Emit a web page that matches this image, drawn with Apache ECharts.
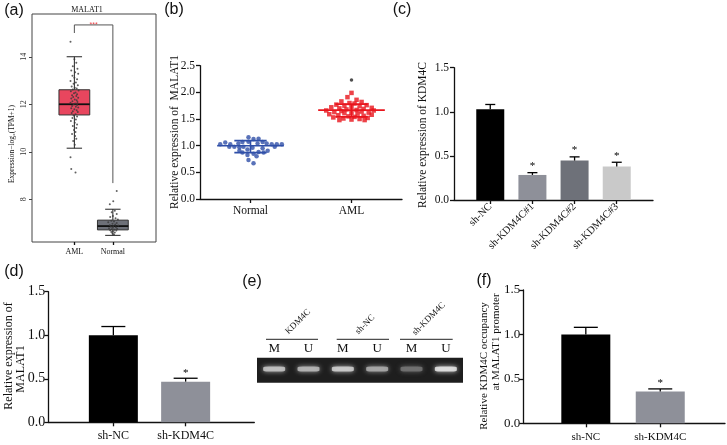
<!DOCTYPE html>
<html><head><meta charset="utf-8">
<script src="https://cdn.jsdelivr.net/npm/echarts@6/dist/echarts.min.js"></script>
<style>html,body{margin:0;padding:0;background:#fff}#c{width:727px;height:445px}</style>
</head><body><div id="c"></div>
<script>
// ---------- Panel (a) ----------
const aGroups = ['AML', 'Normal'];
const aTicks = [8, 10, 12, 14];
// [x, lowerWhisker, q1, median, q3, upperWhisker]
const aBox = [
  [1, 10.15, 11.55, 12.0, 12.61, 14.0],
  [2, 6.48, 6.71, 6.87, 7.12, 7.58]
];
const aBracket = [[1, 15.0], [1, 15.34], [2, 15.34], [2, 8.68]];
const aAmlPts = [[0.9,14.63],[1.0,13.9],[1.05,13.75],[0.96,13.6],[1.08,13.5],[0.92,13.42],[1.02,13.35],[1.1,13.28],[0.95,13.2],[1.0,13.12],[1.07,13.05],[0.9,12.98],[1.04,12.92],[0.98,12.86],[1.09,12.8],[0.93,12.75],[1.01,12.7],[1.06,12.66],[0.96,12.62],[1.11,12.58],[0.91,12.55],[1.03,12.5],[0.99,12.46],[1.07,12.42],[0.94,12.38],[1.05,12.35],[0.97,12.31],[1.1,12.27],[0.92,12.24],[1.01,12.2],[1.06,12.17],[0.95,12.13],[1.08,12.1],[0.9,12.06],[1.02,12.03],[0.98,12.0],[1.07,11.97],[0.94,11.93],[1.04,11.9],[1.1,11.86],[0.92,11.83],[1.0,11.79],[1.06,11.75],[0.96,11.71],[1.09,11.67],[0.93,11.63],[1.03,11.58],[0.98,11.53],[1.07,11.48],[0.95,11.42],[1.04,11.36],[0.91,11.3],[1.01,11.22],[1.07,11.15],[0.96,11.08],[1.05,11.0],[0.99,10.92],[1.03,10.83],[0.94,10.75],[1.02,10.66],[1.05,10.55],[0.97,10.45],[1.01,10.3],[0.9,9.77],[0.92,9.27],[1.03,9.13]];
const aNormPts = [[2.1,8.35],[2.01,7.92],[1.92,7.79],[2.05,7.52],[1.97,7.45],[2.1,7.38],[2.0,7.3],[1.93,7.25],[2.07,7.2],[2.13,7.15],[1.96,7.1],[2.03,7.06],[1.88,7.03],[2.1,7.0],[1.99,6.97],[2.06,6.94],[1.92,6.91],[2.14,6.89],[2.01,6.86],[1.95,6.84],[2.08,6.82],[2.0,6.8],[1.9,6.78],[2.11,6.76],[1.97,6.74],[2.04,6.72],[1.93,6.7],[2.09,6.68],[2.0,6.65],[1.96,6.62],[2.05,6.6],[1.99,6.56],[2.03,6.52]];

// ---------- Panel (b) ----------
const bGroups = ['Normal', 'AML'];
const bNormal = [[0.70,1.025],[0.75,1.06],[0.80,1.025],[0.84,0.98],[0.88,1.04],[0.92,1.07],[0.93,0.98],[0.98,1.16],[0.98,1.075],[1.03,1.125],[1.07,1.04],[1.08,1.13],[1.12,1.07],[1.16,1.04],[1.21,1.025],[1.26,1.025],[1.31,1.025],[0.89,0.97],[0.97,0.93],[1.02,0.96],[1.12,0.95],[1.17,0.905],[0.92,0.87],[0.97,0.825],[1.03,0.85],[1.08,0.88],[1.13,0.87],[0.98,0.73],[1.03,0.67],[0.89,0.905],[1.24,0.98],[0.79,0.98],[1.06,0.80]];
const bAML = [[2.0,1.99],[1.96,1.91],[2.05,1.86],[1.9,1.83],[2.1,1.82],[1.98,1.80],[2.03,1.79],[1.85,1.77],[2.15,1.76],[1.93,1.75],[2.08,1.74],[1.8,1.72],[2.0,1.72],[2.2,1.71],[1.88,1.70],[2.12,1.69],[1.95,1.68],[2.05,1.67],[1.75,1.66],[2.22,1.66],[1.9,1.65],[2.1,1.64],[1.83,1.63],[2.0,1.62],[2.17,1.62],[1.93,1.61],[2.06,1.60],[1.78,1.59],[2.2,1.58],[1.87,1.57],[2.12,1.56],[1.97,1.55],[2.03,1.54],[1.82,1.53],[2.16,1.52],[1.92,1.51],[2.08,1.50],[2.0,1.49],[2.13,1.48],[1.88,1.48]];
// [x, mean, mean+SD, mean-SD]
const bSummary = [[1, 1.0, 1.094, 0.869], [2, 1.667, 1.78, 1.54]];
const bStar = [[2, 2.23]];

// ---------- Panel (c) ----------
const cCats = ['sh-NC', 'sh-KDM4C#1', 'sh-KDM4C#2', 'sh-KDM4C#3'];
const cMeans = [1.03, 0.284, 0.447, 0.379];
const cErr = [1.083, 0.31, 0.489, 0.428];
const cStar = [0, 1, 1, 1];

// ---------- Panel (d) ----------
const dCats = ['sh-NC', 'sh-KDM4C'];
const dMeans = [1.0, 0.467];
const dErr = [1.10, 0.506];
const dStar = [0, 1];

// ---------- Panel (e) ----------
const eLanes = ['M', 'U', 'M', 'U', 'M', 'U'];
const eGroups = ['KDM4C', 'sh-NC', 'sh-KDM4C'];
const eBand = [0.78, 0.72, 0.84, 0.64, 0.34, 0.95];

// ---------- Panel (f) ----------
const fCats = ['sh-NC', 'sh-KDM4C'];
const fMeans = [1.0, 0.357];
const fErr = [1.08, 0.387];
const fStar = [0, 1];

const serif = '"Liberation Serif","Times New Roman",serif';
const sans = '"Liberation Sans",Arial,sans-serif';
const AX = '#111';

const chart = echarts.init(document.getElementById('c'), null, {renderer: 'canvas'});

function gridDef(l, t, w, h, extra) {
  return Object.assign({left: l, top: t, width: w, height: h, containLabel: false, outerBoundsMode: 'none'}, extra || {});
}
function xVal(gi, min, max, vals, names, opts) {
  opts = opts || {};
  return {
    gridIndex: gi, type: 'value', min: min, max: max,
    axisLine: {show: opts.line !== false, onZero: false, lineStyle: {color: AX, width: 1.3}},
    axisTick: {show: true, customValues: vals, length: opts.tick || 4, lineStyle: {color: AX, width: 1.3}},
    axisLabel: {customValues: vals, formatter: v => names[Math.round(v - vals[0])], fontFamily: serif,
      fontSize: opts.fs || 11, color: '#111', margin: opts.margin || 6, rotate: opts.rotate || 0},
    splitLine: {show: false}
  };
}
function yVal(gi, min, max, fs, margin) {
  return {
    gridIndex: gi, type: 'value', min: min, max: max, interval: 0.5,
    axisLine: {show: true, onZero: false, lineStyle: {color: AX, width: 1.3}},
    axisTick: {show: true, length: 4, lineStyle: {color: AX, width: 1.3}},
    axisLabel: {formatter: v => v.toFixed(1), fontFamily: serif, fontSize: fs, color: '#111', margin: margin},
    splitLine: {show: false}
  };
}

function renderBox(params, api) {
  const x = api.value(0);
  const lo = api.coord([x, api.value(1)]), q1 = api.coord([x, api.value(2)]),
        md = api.coord([x, api.value(3)]), q3 = api.coord([x, api.value(4)]), hi = api.coord([x, api.value(5)]);
  const hw = api.size([0.4, 0])[0], cw = api.size([0.2, 0])[0];
  const fill = params.dataIndex === 0 ? '#E8465E' : '#6D7078';
  const ls = {stroke: '#222', lineWidth: 1};
  return {type: 'group', children: [
    {type: 'line', shape: {x1: lo[0], y1: lo[1], x2: q1[0], y2: q1[1]}, style: ls},
    {type: 'line', shape: {x1: q3[0], y1: q3[1], x2: hi[0], y2: hi[1]}, style: ls},
    {type: 'line', shape: {x1: lo[0] - cw, y1: lo[1], x2: lo[0] + cw, y2: lo[1]}, style: ls},
    {type: 'line', shape: {x1: hi[0] - cw, y1: hi[1], x2: hi[0] + cw, y2: hi[1]}, style: ls},
    {type: 'rect', shape: {x: q3[0] - hw, y: q3[1], width: 2 * hw, height: q1[1] - q3[1]}, style: {fill: fill, stroke: '#333', lineWidth: 1}},
    {type: 'line', shape: {x1: md[0] - hw, y1: md[1], x2: md[0] + hw, y2: md[1]}, style: {stroke: '#111', lineWidth: 1.8}}
  ]};
}
function renderMeanSd(params, api) {
  const x = api.value(0);
  const m = api.coord([x, api.value(1)]), hi = api.coord([x, api.value(2)]), lo = api.coord([x, api.value(3)]);
  const mw = api.size([0.33, 0])[0], sw = api.size([0.16, 0])[0];
  const col = params.dataIndex === 0 ? '#2F4FA8' : '#E8141C';
  const s = {stroke: col, lineWidth: 1.6};
  return {type: 'group', children: [
    {type: 'line', shape: {x1: m[0] - mw, y1: m[1], x2: m[0] + mw, y2: m[1]}, style: s},
    {type: 'line', shape: {x1: hi[0] - sw, y1: hi[1], x2: hi[0] + sw, y2: hi[1]}, style: s},
    {type: 'line', shape: {x1: lo[0] - sw, y1: lo[1], x2: lo[0] + sw, y2: lo[1]}, style: s},
    {type: 'line', shape: {x1: hi[0], y1: hi[1], x2: lo[0], y2: lo[1]}, style: s}
  ]};
}
function makeErr(capHalf, starGap) {
  return function (params, api) {
    const x = api.value(0);
    const m = api.coord([x, api.value(1)]), e = api.coord([x, api.value(2)]);
    const s = {stroke: '#000', lineWidth: 1.3};
    const ch = [
      {type: 'line', shape: {x1: e[0], y1: m[1], x2: e[0], y2: e[1]}, style: s},
      {type: 'line', shape: {x1: e[0] - capHalf, y1: e[1], x2: e[0] + capHalf, y2: e[1]}, style: s}
    ];
    if (api.value(3)) ch.push({type: 'text', x: e[0], y: e[1] - starGap,
      style: {text: '*', font: '11px ' + serif, fill: '#000', textAlign: 'center', textVerticalAlign: 'bottom'}});
    return {type: 'group', children: ch};
  };
}
function bars(xi, means, colors, width) {
  return {type: 'bar', xAxisIndex: xi, yAxisIndex: xi, barWidth: width, silent: true,
    data: means.map((v, i) => ({value: [i, v], itemStyle: {color: colors[i]}}))};
}
function errs(xi, means, err, star, cap, gap) {
  return {type: 'custom', xAxisIndex: xi, yAxisIndex: xi, renderItem: makeErr(cap, gap), silent: true,
    data: means.map((v, i) => [i, v, err[i], star[i]]), z: 5};
}
function gray(v) { const c = Math.round(55 + 195 * v); return 'rgb(' + c + ',' + c + ',' + c + ')'; }

const txt = (x, y, text, font, opts) => Object.assign({type: 'text', x: x, y: y,
  style: {text: text, font: font, fill: '#111', textAlign: 'center', textVerticalAlign: 'middle'}}, opts || {});
const rtxt = (x, y, text, font) => ({type: 'text', x: x, y: y, rotation: Math.PI / 2,
  style: {text: text, font: font, fill: '#111', textAlign: 'center', textVerticalAlign: 'middle', lineHeight: 12}});
const rot45 = (x, y, text) => ({type: 'text', x: x, y: y, rotation: Math.PI / 4,
  style: {text: text, font: '9px ' + serif, fill: '#111', textAlign: 'left', textVerticalAlign: 'bottom'}});
const hline = (x1, x2, y) => ({type: 'line', shape: {x1: x1, y1: y, x2: x2, y2: y}, style: {stroke: '#222', lineWidth: 1}});

const option = {
  animation: false,
  backgroundColor: '#fff',
  grid: [
    gridDef(32, 14, 124, 228, {show: true, borderColor: '#444', borderWidth: 1, backgroundColor: 'transparent'}),
    gridDef(200, 65.7, 202, 133.3),
    gridDef(454, 67.7, 199, 132.3),
    gridDef(48.3, 291.7, 206, 130.6),
    gridDef(523.3, 290, 201.7, 133.3),
    gridDef(257, 357.7, 206, 25, {show: true, backgroundColor: '#1e1e1e', borderWidth: 0})
  ],
  xAxis: [
    xVal(0, -0.1, 3.12, [1, 2], aGroups, {line: false, tick: 3, fs: 8, margin: 6}),
    xVal(1, 0.5, 2.5, [1, 2], bGroups, {fs: 11.5, margin: 6}),
    xVal(2, -0.86, 3.86, [0, 1, 2, 3], cCats, {fs: 10.5, margin: 5, rotate: 45}),
    xVal(3, -0.9, 1.95, [0, 1], dCats, {fs: 12, margin: 8}),
    xVal(4, -0.84, 1.87, [0, 1], fCats, {fs: 11, margin: 8}),
    {gridIndex: 5, type: 'category', position: 'top', data: ['0', '1', '2', '3', '4', '5'],
      axisLine: {show: false}, axisTick: {show: false},
      axisLabel: {formatter: (v, i) => eLanes[i], fontFamily: serif, fontSize: 13, color: '#111', margin: 3}}
  ],
  yAxis: [
    {gridIndex: 0, type: 'value', min: 6.2, max: 15.8, axisLine: {show: false, onZero: false},
      axisTick: {show: true, customValues: aTicks, length: 3, lineStyle: {color: '#444'}},
      axisLabel: {customValues: aTicks, rotate: 90, fontFamily: serif, fontSize: 8, color: '#333', margin: 4},
      splitLine: {show: false}},
    yVal(1, 0, 2.5, 11.5, 5),
    yVal(2, 0, 1.5, 11.5, 5),
    yVal(3, 0, 1.5, 14, 3),
    yVal(4, 0, 1.5, 13, 3),
    {gridIndex: 5, type: 'value', min: 0, max: 1, show: false}
  ],
  series: [
    {type: 'custom', xAxisIndex: 0, yAxisIndex: 0, renderItem: renderBox, data: aBox, silent: true},
    {type: 'line', xAxisIndex: 0, yAxisIndex: 0, data: aBracket, symbol: 'none', silent: true,
      lineStyle: {color: '#555', width: 1}},
    {type: 'scatter', xAxisIndex: 0, yAxisIndex: 0, data: [[1.5, 15.34]], symbolSize: 0, silent: true,
      label: {show: true, formatter: '***', color: '#E8141C', fontSize: 7, position: 'inside',
        backgroundColor: '#fff', padding: [0, 1, 0, 1]}},
    {type: 'scatter', xAxisIndex: 0, yAxisIndex: 0, data: aAmlPts, symbolSize: 2, silent: true,
      itemStyle: {color: '#3a3a3a'}, z: 4},
    {type: 'scatter', xAxisIndex: 0, yAxisIndex: 0, data: aNormPts, symbolSize: 2, silent: true,
      itemStyle: {color: '#3a3a3a'}, z: 4},

    {type: 'scatter', xAxisIndex: 1, yAxisIndex: 1, data: bNormal, symbol: 'circle', symbolSize: 4.5, silent: true,
      itemStyle: {color: '#2F4FA8'}},
    {type: 'scatter', xAxisIndex: 1, yAxisIndex: 1, data: bAML, symbol: 'rect', symbolSize: 4.5, silent: true,
      itemStyle: {color: '#E8141C'}},
    {type: 'custom', xAxisIndex: 1, yAxisIndex: 1, renderItem: renderMeanSd, data: bSummary, silent: true, z: 3},
    {type: 'scatter', xAxisIndex: 1, yAxisIndex: 1, data: bStar, symbol: 'circle', symbolSize: 3.5, silent: true,
      itemStyle: {color: '#222'}},

    bars(2, cMeans, ['#000000', '#8E9099', '#6E7179', '#C9C9C9'], 28),
    errs(2, cMeans, cErr, cStar, 5, 1),
    bars(3, dMeans, ['#000000', '#8E9099'], 49),
    errs(3, dMeans, dErr, dStar, 12, 0),
    bars(4, fMeans, ['#000000', '#8E9099'], 49),
    errs(4, fMeans, fErr, fStar, 12, 0),

    {type: 'scatter', xAxisIndex: 5, yAxisIndex: 5, symbol: 'roundRect', symbolSize: [22, 5], silent: true,
      data: eBand.map((v, i) => ({value: [i, 0.55], itemStyle: {color: gray(v), shadowColor: gray(v), shadowBlur: 5}}))}
  ],
  graphic: [
    txt(14, 11, '(a)', '16px ' + sans),
    txt(174, 10, '(b)', '16px ' + sans),
    txt(402, 10, '(c)', '16px ' + sans),
    txt(14, 272, '(d)', '16px ' + sans),
    txt(252, 282, '(e)', '16px ' + sans),
    txt(484, 281, '(f)', '16px ' + sans),
    txt(87, 10, 'MALAT1', '8px ' + serif),
    rtxt(12.5, 144, 'Expression\u2212log\u2082(TPM+1)', '7.5px ' + serif),
    rtxt(175, 132, 'Relative expression of  MALAT1', '11.5px ' + serif),
    rtxt(423, 135, 'Relative expression of KDM4C', '11.5px ' + serif),
    rtxt(9, 356, 'Relative expression of', '12px ' + serif),
    rtxt(20.5, 369, 'MALAT1', '12px ' + serif),
    rtxt(484, 366, 'Relative KDM4C occupancy', '11px ' + serif),
    rtxt(496, 342, 'at MALAT1 promoter', '11px ' + serif),
    hline(266, 318, 339.3), hline(336.7, 389, 339.3), hline(400, 452.7, 339.3),
    rot45(290, 336, eGroups[0]), rot45(360, 336, eGroups[1]), rot45(417, 337, eGroups[2])
  ]
};
chart.setOption(option);
</script></body></html>
